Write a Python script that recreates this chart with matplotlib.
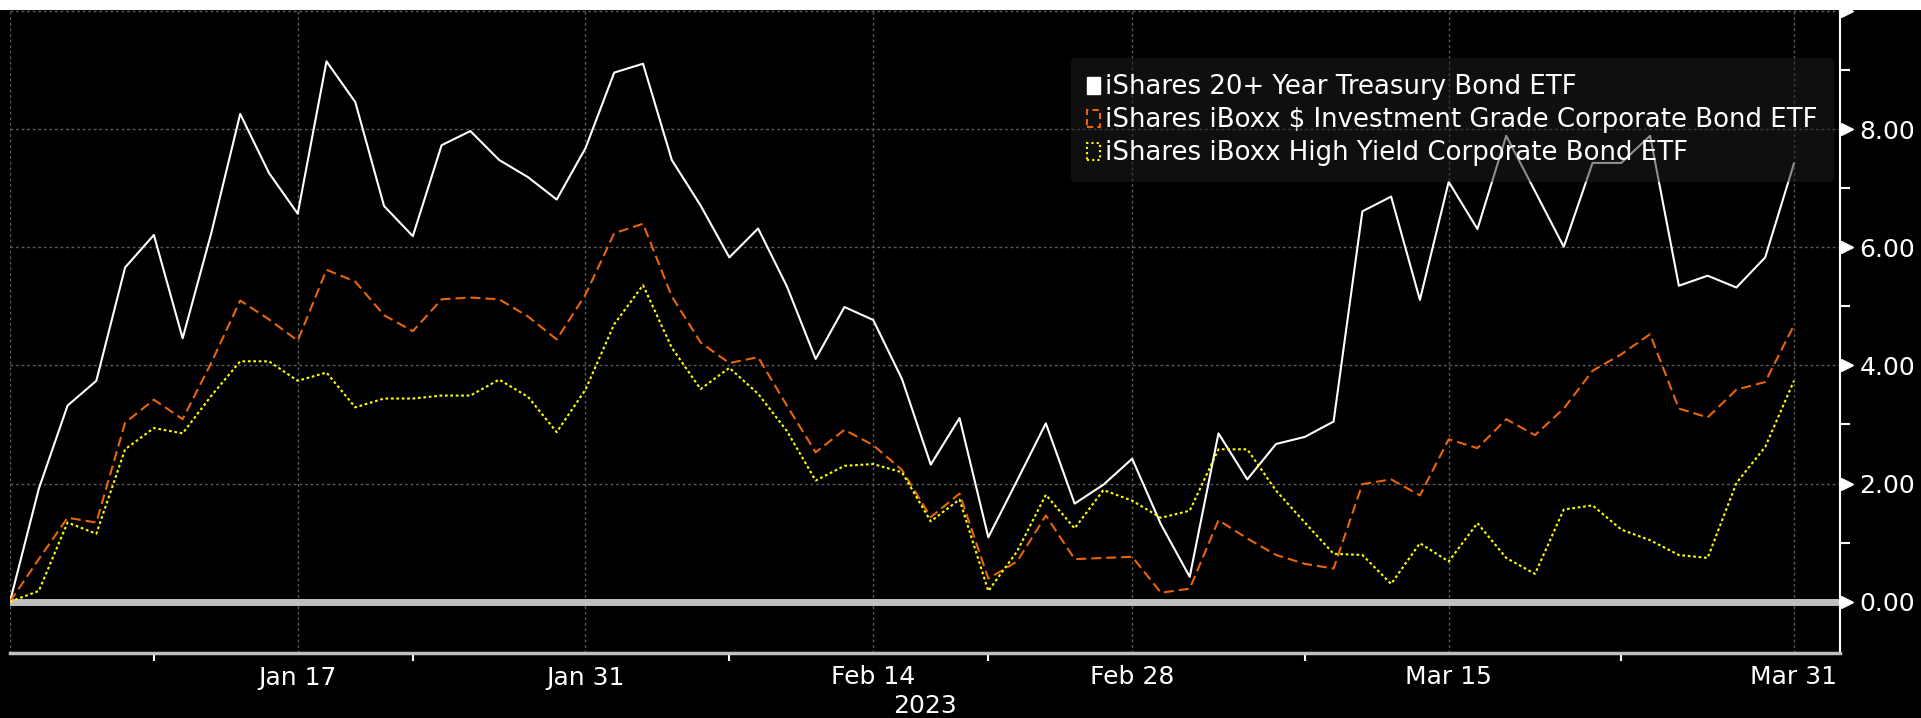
import numpy as np
import pandas as pd
import matplotlib
matplotlib.use("Agg")
import matplotlib.pyplot as plt
from matplotlib.patches import Patch, Rectangle
from matplotlib.transforms import offset_copy

# --- DATI: rendimento cumulato (%) da fine 2022, giorni di borsa ---
holidays = ['2023-01-02', '2023-01-16', '2023-02-20']
dates = pd.bdate_range('2022-12-30', '2023-03-31', freq='C', holidays=holidays)

tlt = [0.00, 1.91, 3.32, 3.74, 5.66, 6.21, 4.46, 6.25, 8.26, 7.26, 6.57,
       9.15, 8.46, 6.70, 6.19, 7.73, 7.97, 7.48, 7.19, 6.81, 7.68,
       8.96, 9.11, 7.48, 6.71, 5.83, 6.32, 5.34, 4.11, 4.99, 4.77,
       3.77, 2.32, 3.11, 1.09, 2.05, 3.02, 1.66, 1.98, 2.42, 1.31,
       0.42, 2.85, 2.07, 2.67, 2.79, 3.05, 6.61, 6.86, 5.11, 7.11,
       6.31, 7.89, 6.95, 6.01, 7.43, 7.43, 7.89, 5.35, 5.52, 5.32,
       5.83, 7.42]

lqd = [0.00, 0.72, 1.42, 1.34, 3.03, 3.42, 3.09, 4.05, 5.10, 4.78, 4.42,
       5.62, 5.42, 4.85, 4.58, 5.12, 5.15, 5.12, 4.83, 4.44, 5.20,
       6.24, 6.40, 5.17, 4.39, 4.04, 4.14, 3.32, 2.53, 2.91, 2.65,
       2.23, 1.43, 1.83, 0.39, 0.68, 1.46, 0.72, 0.74, 0.76, 0.15,
       0.22, 1.38, 1.07, 0.79, 0.64, 0.56, 1.99, 2.07, 1.80, 2.75,
       2.60, 3.09, 2.82, 3.27, 3.91, 4.19, 4.53, 3.27, 3.12, 3.59,
       3.72, 4.68]

hyg = [0.00, 0.18, 1.34, 1.15, 2.58, 2.94, 2.85, 3.49, 4.07, 4.07, 3.74,
       3.88, 3.29, 3.44, 3.44, 3.49, 3.49, 3.76, 3.47, 2.87, 3.59,
       4.70, 5.36, 4.30, 3.60, 3.96, 3.52, 2.89, 2.05, 2.30, 2.33,
       2.19, 1.36, 1.73, 0.18, 0.85, 1.81, 1.24, 1.89, 1.71, 1.42,
       1.54, 2.58, 2.58, 1.88, 1.34, 0.81, 0.79, 0.30, 0.99, 0.68,
       1.33, 0.74, 0.47, 1.56, 1.63, 1.22, 1.04, 0.79, 0.74, 2.01,
       2.62, 3.74]

labels = ['iShares 20+ Year Treasury Bond ETF',
          'iShares iBoxx $ Investment Grade Corporate Bond ETF',
          'iShares iBoxx High Yield Corporate Bond ETF']

tick_dates = ['2022-12-30', '2023-01-17', '2023-01-31', '2023-02-14',
              '2023-02-28', '2023-03-15', '2023-03-31']
tick_labels = ['', 'Jan 17', 'Jan 31', 'Feb 14', 'Feb 28', 'Mar 15', 'Mar 31']
minor_dates = ['2022-12-30', '2023-01-09', '2023-01-23', '2023-02-07',
               '2023-02-21', '2023-03-08', '2023-03-23']
y_ticks = [0, 2, 4, 6, 8, 10]
y_minor = [1, 3, 5, 7, 9]


def main():
    x = np.arange(len(dates))
    pos = lambda d: dates.get_loc(pd.Timestamp(d))

    white = '#ffffff'
    orange = '#e8650a'
    yellow = '#ffff00'
    grid_c = '#5a5a5a'

    fig = plt.figure(figsize=(19.21, 7.18), dpi=100, facecolor='black')
    # striscia bianca in alto
    fig.patches.append(Rectangle((0, 1 - 10 / 718), 1, 10 / 718,
                                 transform=fig.transFigure,
                                 facecolor='white', edgecolor='none'))
    ax = fig.add_axes([10 / 1921, 65 / 718, 1830 / 1921, 643 / 718])
    ax.set_facecolor('black')

    # --- SERIE ---
    ax.axhline(0, color='#c0c0c0', lw=5, zorder=2)
    ax.plot(x, tlt, color=white, lw=1.5, zorder=3)
    ax.plot(x, lqd, color=orange, lw=1.5, dashes=(4.8, 2.4), zorder=3)
    ax.plot(x, hyg, color=yellow, lw=1.5, dashes=(1.3, 1.3), zorder=3)

    ax.set_xlim(0, 63.6)
    ax.set_ylim(-0.87, 10.02)

    # --- ASSE X ---
    ax.set_xticks([pos(d) for d in tick_dates])
    ax.set_xticklabels(tick_labels)
    ax.set_xticks([pos(d) for d in minor_dates], minor=True)
    ax.tick_params(axis='x', which='major', length=0, pad=9,
                   labelsize=18, labelcolor='white')
    ax.tick_params(axis='x', which='minor', length=6, width=1.5,
                   color='white', direction='out')
    ax.set_xlabel('2023', color='white', fontsize=18, labelpad=3)

    # --- ASSE Y (destra) ---
    ax.yaxis.tick_right()
    ax.set_yticks(y_ticks)
    ax.set_yticklabels(['' if v == 10 else f'{v:.2f}' for v in y_ticks])
    ax.set_yticks(y_minor, minor=True)
    ax.tick_params(axis='y', which='major', length=0, pad=14,
                   labelsize=18, labelcolor='white')
    ax.tick_params(axis='y', which='minor', length=7, width=1.5,
                   color='white', direction='out')
    tri = offset_copy(ax.get_yaxis_transform(), fig=fig, x=7, units='dots')
    for v in y_ticks:
        ax.plot([1.0], [v], marker='>', ms=9, color='white',
                transform=tri, clip_on=False, zorder=6)

    ax.grid(True, which='major', color=grid_c, linestyle=(0, (2, 2)), lw=1)

    for side in ['left', 'top']:
        ax.spines[side].set_visible(False)
    ax.spines['right'].set_color('white')
    ax.spines['right'].set_linewidth(1.5)
    ax.spines['bottom'].set_color('#c0c0c0')
    ax.spines['bottom'].set_linewidth(2.5)

    # --- LEGENDA ---
    handles = [Patch(facecolor=white, edgecolor=white, lw=1),
               Patch(facecolor='none', edgecolor=orange, lw=1.5,
                     linestyle=(0, (3, 2))),
               Patch(facecolor='none', edgecolor=yellow, lw=1.5,
                     linestyle=(0, (1, 1.5)))]
    leg = ax.legend(handles, labels, loc='upper right',
                    bbox_to_anchor=(0.9967, 0.925), borderaxespad=0,
                    fontsize=18.7, frameon=True, facecolor='#1f1f1f',
                    edgecolor='none', framealpha=0.5, labelcolor='white',
                    handlelength=0.5, handleheight=0.65, handletextpad=0.2,
                    labelspacing=0.27, borderpad=0.62)
    leg.set_zorder(5)

    fig.savefig('out.png', dpi=100, facecolor=fig.get_facecolor())


if __name__ == "__main__":
    main()
